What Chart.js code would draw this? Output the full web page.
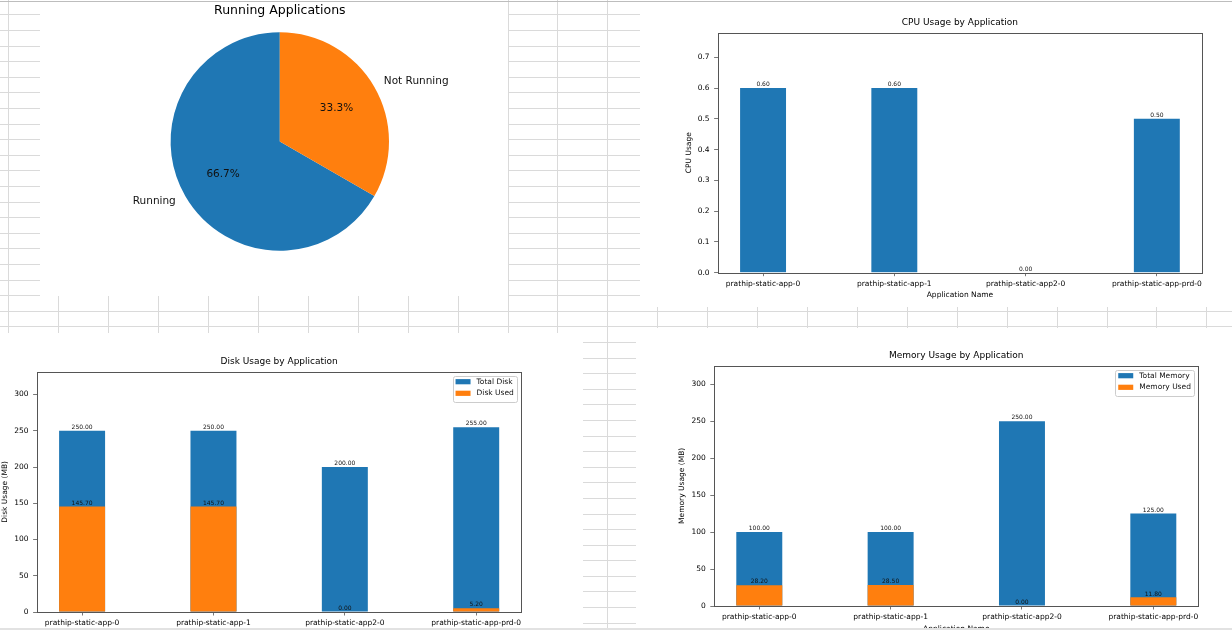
<!DOCTYPE html>
<html>
<head>
<meta charset="utf-8">
<script src="https://cdn.jsdelivr.net/npm/chart.js@4.4.1/dist/chart.umd.min.js"></script>
<style>
html,body{margin:0;padding:0;background:#fff;}
#stage{position:relative;width:1232px;height:630px;overflow:hidden;background:#fff;}
#bg{position:absolute;left:0;top:0;}
.panel{position:absolute;background:#fff;overflow:hidden;}
.panel canvas{position:absolute;left:0;top:0;}
#topline{position:absolute;left:0;top:1px;width:1232px;height:1px;background:#bdbdbd;z-index:5;}
#botband{position:absolute;left:0;top:628px;width:1232px;height:2px;background:#e2e2e2;z-index:5;}
</style>
</head>
<body>
<div id="stage">
  <canvas id="bg" width="1232" height="630"></canvas>
  <div class="panel" style="left:40px;top:0px;width:468px;height:296px;"><canvas id="pie" width="468" height="296"></canvas></div>
  <div class="panel" style="left:640px;top:0px;width:592px;height:307px;"><canvas id="cpu" width="592" height="307"></canvas></div>
  <div class="panel" style="left:0px;top:333px;width:583px;height:297px;"><canvas id="disk" width="583" height="320"></canvas></div>
  <div class="panel" style="left:636px;top:328px;width:596px;height:302px;"><canvas id="mem" width="596" height="320"></canvas></div>
  <div id="topline"></div>
  <div id="botband"></div>
</div>
<script>
// ---------------- DATA ----------------
const appNames = ['prathip-static-app-0', 'prathip-static-app-1', 'prathip-static-app2-0', 'prathip-static-app-prd-0'];
const statusLabels = ['Running', 'Not Running'];
const statusCounts = [2, 1];
const cpuUsage = [0.60, 0.60, 0.00, 0.50];
const cpuTicks = [0, 0.1, 0.2, 0.3, 0.4, 0.5, 0.6, 0.7];
const diskTotal = [250, 250, 200, 255];
const diskUsed = [145.7, 145.7, 0, 5.2];
const memTotal = [100, 100, 250, 125];
const memUsed = [28.2, 28.5, 0, 11.8];
const mbTicks = [0, 50, 100, 150, 200, 250, 300];

// ---------------- STYLE ----------------
const BLUE = '#1f77b4';
const ORANGE = '#ff7f0e';
const FONT = '"DejaVu Sans", sans-serif';
Chart.defaults.font.family = FONT;
Chart.defaults.color = '#000';
Chart.defaults.animation = false;

// ---------------- spreadsheet background ----------------
(function () {
  const c = document.getElementById('bg').getContext('2d');
  c.strokeStyle = '#dadada';
  c.lineWidth = 1;
  c.beginPath();
  for (let k = 0; ; k++) {
    const y = Math.round(14.3 + 15.6 * k) + 0.5;
    if (y > 630) break;
    c.moveTo(0, y); c.lineTo(1232, y);
  }
  for (let k = 0; k < 26; k++) {
    const x = Math.round(8.3 + 49.92 * k) + 0.5;
    c.moveTo(x, 0); c.lineTo(x, 630);
  }
  c.stroke();
})();

// ---------------- plugins ----------------
const framePlugin = {
  id: 'frame',
  afterDatasetsDraw(chart) {
    const a = chart.chartArea, ctx = chart.ctx;
    ctx.save();
    ctx.strokeStyle = '#555';
    ctx.lineWidth = 1;
    ctx.strokeRect(Math.round(a.left) + 0.5, Math.round(a.top) + 0.5,
      Math.round(a.right) - Math.round(a.left), Math.round(a.bottom) - Math.round(a.top));
    ctx.restore();
  }
};

const barLabelPlugin = {
  id: 'barLabels',
  afterDatasetsDraw(chart) {
    const ctx = chart.ctx;
    ctx.save();
    ctx.font = '6px ' + FONT;
    ctx.fillStyle = '#111';
    ctx.textAlign = 'center';
    ctx.textBaseline = 'bottom';
    chart.data.datasets.forEach((ds, di) => {
      chart.getDatasetMeta(di).data.forEach((el, i) => {
        ctx.fillText(ds.data[i].y.toFixed(2), el.x, el.y - 0.3);
      });
    });
    ctx.restore();
  }
};

const legendPlugin = {
  id: 'mplLegend',
  afterDraw(chart) {
    const ctx = chart.ctx, a = chart.chartArea;
    ctx.save();
    ctx.font = '7.5px ' + FONT;
    const items = chart.data.datasets.map(d => ({ label: d.label, color: d.backgroundColor }));
    const tw = Math.max(...items.map(it => ctx.measureText(it.label).width));
    const w = 3 + 15 + 6 + tw + 3, h = 25.5;
    const x0 = a.right - 4.4 - w, y0 = a.top + 4;
    ctx.fillStyle = 'rgba(255,255,255,0.8)';
    ctx.strokeStyle = '#cccccc';
    ctx.lineWidth = 1;
    ctx.beginPath();
    if (ctx.roundRect) ctx.roundRect(Math.round(x0) + 0.5, Math.round(y0) + 0.5, Math.round(w), Math.round(h), 2);
    else ctx.rect(Math.round(x0) + 0.5, Math.round(y0) + 0.5, Math.round(w), Math.round(h));
    ctx.fill();
    ctx.stroke();
    items.forEach((it, i) => {
      const cy = y0 + 6 + i * 11.6;
      ctx.fillStyle = it.color;
      ctx.fillRect(x0 + 3, cy - 2.6, 15, 5.2);
      ctx.fillStyle = '#111';
      ctx.textAlign = 'left';
      ctx.textBaseline = 'middle';
      ctx.fillText(it.label, x0 + 24, cy);
    });
    ctx.restore();
  }
};

const pieLabelPlugin = {
  id: 'pieLabels',
  afterDatasetsDraw(chart) {
    const ctx = chart.ctx;
    const ds = chart.data.datasets[0];
    const total = ds.data.reduce((s, v) => s + v, 0);
    ctx.save();
    ctx.font = '10.5px ' + FONT;
    ctx.fillStyle = '#111';
    ctx.textBaseline = 'middle';
    chart.getDatasetMeta(0).data.forEach((arc, i) => {
      const p = arc.getProps(['x', 'y', 'startAngle', 'endAngle', 'outerRadius'], true);
      const mid = (p.startAngle + p.endAngle) / 2;
      const c = Math.cos(mid), s = Math.sin(mid);
      ctx.textAlign = c > 0 ? 'left' : 'right';
      ctx.fillText(chart.data.labels[i], p.x + c * p.outerRadius * 1.1, p.y + s * p.outerRadius * 1.1);
      ctx.textAlign = 'center';
      ctx.fillText((ds.data[i] / total * 100).toFixed(1) + '%', p.x + c * p.outerRadius * 0.6, p.y + s * p.outerRadius * 0.6);
    });
    ctx.restore();
  }
};

// ---------------- pie ----------------
new Chart(document.getElementById('pie'), {
  type: 'pie',
  data: {
    labels: statusLabels,
    datasets: [{ data: statusCounts, backgroundColor: [BLUE, ORANGE], borderWidth: 0, hoverOffset: 0, offset: 0 }]
  },
  options: {
    responsive: false,
    events: [],
    rotation: 120,
    radius: 109.2,
    layout: { padding: { left: 130.6, right: 119, top: 0, bottom: 45.3 } },
    plugins: {
      legend: { display: false },
      tooltip: { enabled: false },
      title: {
        display: true, text: 'Running Applications', fullSize: false, color: '#000',
        font: { size: 12.5, weight: 'normal', family: FONT },
        padding: { top: 2.8, bottom: 14.5 }
      }
    }
  },
  plugins: [pieLabelPlugin]
});

// ---------------- bar chart builder ----------------
function makeBar(id, g, datasets, yMax, yTicks, yFmt, title, yTitle, withLegend) {
  const canvas = document.getElementById(id);
  const cw = canvas.width, ch = canvas.height;
  const tickFont = { size: 7.5, family: FONT };
  const plugins = [framePlugin, barLabelPlugin];
  if (withLegend) plugins.push(legendPlugin);
  return new Chart(canvas, {
    type: 'bar',
    data: { datasets },
    options: {
      responsive: false,
      events: [],
      layout: { padding: { left: 0, right: cw - g.axRight, top: 0, bottom: 0 } },
      datasets: { bar: { grouped: false, categoryPercentage: 1, barPercentage: 0.35, borderWidth: 0 } },
      plugins: {
        legend: { display: false },
        tooltip: { enabled: false },
        title: {
          display: true, text: title, fullSize: false, color: '#000',
          font: { size: 9, weight: 'normal', family: FONT },
          padding: { top: g.titleY - 5.4, bottom: g.axTop - (g.titleY - 5.4) - 10.8 }
        }
      },
      scales: {
        x: {
          type: 'linear', bounds: 'data', offset: false, min: -0.3425, max: appNames.length - 1 + 0.3425,
          afterBuildTicks: s => { s.ticks = appNames.map((_, i) => ({ value: i })); },
          afterFit: s => { s.height = ch - g.axBottom; },
          ticks: { callback: v => appNames[v], font: tickFont, color: '#000', padding: 3.5, maxRotation: 0, autoSkip: false },
          grid: { offset: false, drawOnChartArea: false, drawTicks: true, tickLength: 3.5, color: '#555', lineWidth: 0.8 },
          border: { display: false },
          title: { display: true, text: 'Application Name', font: tickFont, color: '#000',
                   padding: { top: 0, bottom: ch - g.axBottom - 22.6 - 4.5 } }
        },
        y: {
          type: 'linear', bounds: 'data', min: 0, max: yMax,
          afterBuildTicks: s => { s.ticks = yTicks.map(v => ({ value: v })); },
          afterFit: s => { s.width = g.axLeft; },
          ticks: { callback: v => yFmt(v), font: tickFont, color: '#000', padding: 4.5 },
          grid: { drawOnChartArea: false, drawTicks: true, tickLength: 4, color: '#555', lineWidth: 0.8 },
          border: { display: false },
          title: { display: true, text: yTitle, font: tickFont, color: '#000',
                   padding: { top: g.yTitleX - 4.5, bottom: 0 } }
        }
      }
    },
    plugins
  });
}

const toPts = arr => arr.map((v, i) => ({ x: i, y: v }));

// CPU
makeBar('cpu', { axLeft: 78.1, axRight: 561.8, axTop: 32.7, axBottom: 272.7, yTitleX: 48.7, titleY: 22.7 },
  [{ label: 'CPU Usage', data: toPts(cpuUsage), backgroundColor: BLUE }],
  Math.max(...cpuUsage) * 1.3, cpuTicks, v => v.toFixed(1),
  'CPU Usage by Application', 'CPU Usage', false);

// Disk
makeBar('disk', { axLeft: 37.1, axRight: 521.2, axTop: 38.7, axBottom: 279, yTitleX: 5, titleY: 28.7 },
  [
    { label: 'Total Disk', data: toPts(diskTotal), backgroundColor: BLUE, order: 2 },
    { label: 'Disk Used', data: toPts(diskUsed), backgroundColor: ORANGE, order: 1 }
  ],
  Math.max(...diskTotal) * 1.3, mbTicks, v => String(v),
  'Disk Usage by Application', 'Disk Usage (MB)', true);

// Memory
makeBar('mem', { axLeft: 78.3, axRight: 562.3, axTop: 37.7, axBottom: 278, yTitleX: 46.3, titleY: 27.7 },
  [
    { label: 'Total Memory', data: toPts(memTotal), backgroundColor: BLUE, order: 2 },
    { label: 'Memory Used', data: toPts(memUsed), backgroundColor: ORANGE, order: 1 }
  ],
  Math.max(...memTotal) * 1.3, mbTicks, v => String(v),
  'Memory Usage by Application', 'Memory Usage (MB)', true);
</script>
</body>
</html>
